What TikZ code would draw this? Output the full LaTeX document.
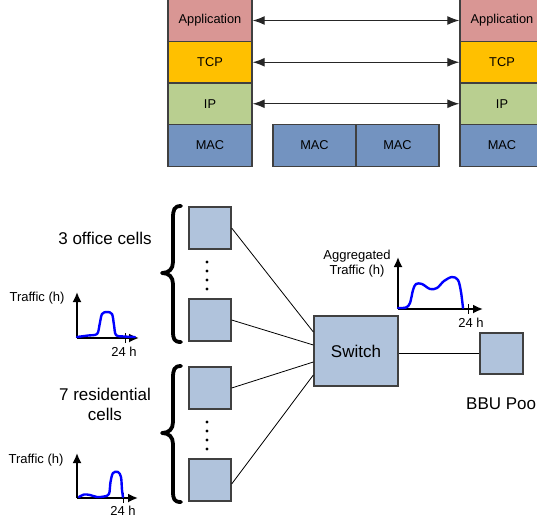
\documentclass[tikz,border=0pt]{standalone}
\usepackage{fontspec}
\setmainfont{Liberation Sans}
\usetikzlibrary{arrows.meta,calc}
\definecolor{appc}{HTML}{D99694}
\definecolor{tcpc}{HTML}{FFC000}
\definecolor{ipc}{HTML}{B9CF90}
\definecolor{macc}{HTML}{7393C0}
\definecolor{cellc}{HTML}{B0C3DC}
\definecolor{edgec}{HTML}{404040}
\begin{document}
\begin{tikzpicture}[x=1pt,y=-1pt,
  layer/.style={draw=edgec,line width=1.3pt,minimum width=84pt,minimum height=41.5pt,inner sep=0pt,font=\fontsize{12.8}{14}\selectfont},
  cellbox/.style={draw=edgec,line width=1.3pt,fill=cellc,minimum width=42pt,minimum height=42pt,inner sep=0pt},
  peer/.style={draw=black!85,line width=1.2pt,{Latex[length=12pt,width=9pt]}-{Latex[length=12pt,width=9pt]}},
  link/.style={draw=black,line width=0.8pt},
  axis/.style={draw=black,line width=1.8pt,-{Latex[length=10pt,width=9pt]}},
  curve/.style={draw=blue,line width=2.4pt,line cap=round,line join=round},
  brace/.style={draw=black,line width=3.8pt,line cap=round,line join=round},
  small/.style={font=\fontsize{13}{15}\selectfont,inner sep=0pt},
  big/.style={font=\fontsize{17}{20}\selectfont,inner sep=0pt,align=center},
  dot/.style={fill=black,circle,inner sep=0pt,minimum size=3.2pt}]
\useasboundingbox (0,0) rectangle (537,519);
\clip (0,0) rectangle (537,519);
% protocol stacks
\node[layer,fill=appc] (appL) at (210,20.5) {Application};
\node[layer,fill=tcpc] (tcpL) at (210,62.25) {TCP};
\node[layer,fill=ipc] (ipL) at (210,103.75) {IP};
\node[layer,fill=macc] (macL) at (210,145.5) {MAC};
\node[layer,fill=appc] (appR) at (502,20.5) {Application};
\node[layer,fill=tcpc] (tcpR) at (502,62.25) {TCP};
\node[layer,fill=ipc] (ipR) at (502,103.75) {IP};
\node[layer,fill=macc] (macR) at (502,145.5) {MAC};
\node[layer,fill=macc,minimum width=83pt] (macM1) at (314.5,145.5) {MAC};
\node[layer,fill=macc,minimum width=83pt] (macM2) at (397.5,145.5) {MAC};
\draw[peer] (appL.east) -- (appR.west);
\draw[peer] (tcpL.east) -- (tcpR.west);
\draw[peer] (ipL.east) -- (ipR.west);
% cells
\node[cellbox] (o1) at (210,228) {};
\node[cellbox] (o2) at (210,320) {};
\node[cellbox] (r1) at (210,388) {};
\node[cellbox] (r2) at (210,480) {};
\node[cellbox,minimum width=84pt,minimum height=70pt,font=\fontsize{17}{20}\selectfont] (sw) at (356,351) {Switch};
\node[cellbox,minimum width=43pt,minimum height=41pt] (bbu) at (501.5,353.5) {};
\node[big,anchor=west] (bbul) at (466,403) {BBU Pool};
\foreach \y [count=\i] in {262,271,280,289} {\node[dot] (od\i) at (207,\y) {};}
\foreach \y [count=\i] in {422,431,440,449} {\node[dot] (rd\i) at (207,\y) {};}
\draw[link] (o1.east) -- ($(sw.west)+(0,-19)$);
\draw[link] (o2.east) -- ($(sw.west)+(0,-6)$);
\draw[link] (r1.east) -- ($(sw.west)+(0,11)$);
\draw[link] ($(r2.east)+(0,4)$) -- ($(sw.west)+(0,24)$);
\draw[link] (sw.east |- bbu.west) -- (bbu.west);
% braces
\draw[brace] (181,206) .. controls (174,206) and (173,210) .. (173,218) -- (173,262)
  .. controls (173,269) and (169,273) .. (162,273)
  .. controls (169,273) and (173,277) .. (173,284) -- (173,331)
  .. controls (173,339) and (174,342) .. (181,342);
\draw[brace] (181,366) .. controls (174,366) and (173,370) .. (173,378) -- (173,422)
  .. controls (173,429) and (169,433) .. (162,433)
  .. controls (169,433) and (173,437) .. (173,444) -- (173,491)
  .. controls (173,499) and (174,502) .. (181,502);
\node[big] (offl) at (105,238) {3 office cells};
\node[big] (resl) at (105,404) {7 residential\\cells};
% office traffic chart
\coordinate (oo) at (77,338);
\draw[axis] (oo) -- (77,292);
\draw[axis] (oo) -- (139,338);
\draw[line width=1pt] (125,333) -- (125,343);
\draw[curve] plot[smooth,tension=0.55] coordinates {(77,337) (88,335.5) (97,334) (99.5,325) (102,314) (107,312) (112,314) (114,325) (116,335) (124,336.5) (135,337)};
\node[small] (otl) at (37,298) {Traffic (h)};
\node[small] (oxl) at (124,352) {24 h};
% residential traffic chart
\coordinate (ro) at (77,498);
\draw[axis] (ro) -- (77,453);
\draw[axis] (ro) -- (138,498);
\draw[line width=1pt] (123,493) -- (123,503);
\draw[curve] plot[smooth,tension=0.55] coordinates {(79,497) (84,494.5) (90,495) (97,497) (104,496.5) (109,494) (110.5,482) (113,473) (118,472) (121,477) (122,490) (123,497)};
\node[small] (rtl) at (36,460) {Traffic (h)};
\node[small] (rxl) at (123,511) {24 h};
% aggregated chart
\coordinate (ao) at (398,309);
\draw[axis] (ao) -- (398,257);
\draw[axis] (ao) -- (483,309);
\draw[line width=1pt] (468,304) -- (468,314);
\draw[curve] plot[smooth,tension=0.55] coordinates {(398,308) (406,307.5) (410,303) (413,290) (416,284) (422,284) (430,289) (437,288) (444,281) (452,277) (458,280) (461,292) (463,308)};
\node[small,align=center] (atl) at (357,263.5) {Aggregated\\Traffic (h)};
\node[small] (axl) at (471,323) {24 h};
\end{tikzpicture}
\end{document}
